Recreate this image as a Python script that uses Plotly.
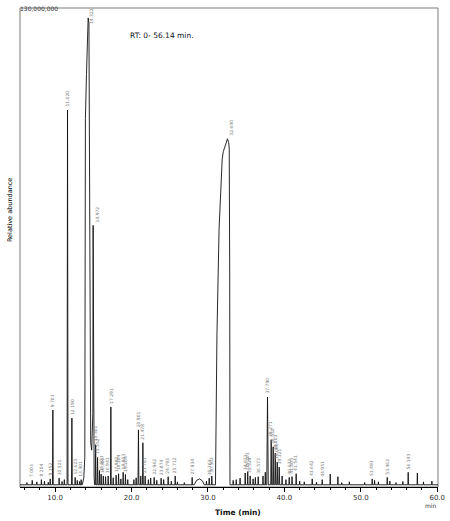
import plotly.graph_objects as go

# ---------------- data (intensities in millions of counts, RT in min) -------------
baseline = 0.6

# isolated peaks: retention time, apex height, half width, label ('' = unlabeled)
peak_rt = [6.30, 7.00, 7.60, 8.20, 8.60, 9.10, 9.35, 9.70, 10.52, 10.90, 11.20, 11.62,
           12.19, 12.62, 12.90, 13.20, 13.40,
           15.30, 15.55, 15.80, 16.02, 16.30, 16.60, 16.94, 17.29, 17.60, 17.98, 18.30,
           18.60, 18.90, 19.20, 19.50, 20.30, 20.60, 20.90, 21.20, 21.48, 21.78, 22.20,
           22.50, 22.96, 23.30, 23.87, 24.20, 24.79, 25.20, 25.71, 26.00, 26.90, 27.93,
           29.80, 30.16, 30.50, 33.30, 33.70, 34.20, 34.87, 35.20, 35.52, 35.90, 36.20,
           36.57, 37.20, 37.50, 37.79, 38.27, 38.53, 38.80, 39.06, 39.32, 39.70, 40.20,
           40.63, 41.00, 41.54, 42.00, 42.60, 43.64, 44.20, 44.95, 46.00, 47.00, 47.50,
           48.50, 50.50, 51.49, 51.80, 52.30, 53.46, 53.80, 54.60, 55.50, 56.20, 57.40,
           58.20, 59.30]
peak_height = [1.2, 1.8, 1.4, 2.0, 1.6, 1.3, 2.2, 20.9, 2.4, 1.5, 2.0, 102.3,
               18.7, 2.6, 1.8, 1.5, 2.0,
               11.5, 8.0, 4.5, 3.5, 3.0, 2.8, 3.0, 21.7, 2.5, 3.2, 3.6,
               2.2, 4.0, 3.4, 2.0, 2.0, 2.5, 15.5, 3.0, 12.0, 3.0, 2.0,
               2.4, 2.6, 1.8, 2.4, 2.0, 2.8, 1.6, 3.0, 1.4, 1.2, 2.6,
               1.6, 2.4, 3.0, 1.8, 2.0, 2.4, 3.8, 4.2, 3.0, 2.2, 2.6,
               2.8, 3.0, 4.0, 24.4, 12.8, 10.9, 9.2, 6.8, 5.4, 3.0, 2.0,
               2.6, 2.8, 3.6, 1.6, 1.4, 2.2, 1.3, 2.0, 3.5, 2.8, 1.2,
               1.4, 1.2, 2.2, 1.8, 1.4, 2.6, 1.6, 1.2, 1.5, 4.0, 3.8,
               1.4, 1.6]
peak_halfwidth = [0.04, 0.04, 0.04, 0.04, 0.04, 0.04, 0.04, 0.05, 0.04, 0.04, 0.04, 0.06,
                  0.05, 0.04, 0.04, 0.04, 0.04,
                  0.05, 0.05, 0.04, 0.04, 0.04, 0.04, 0.04, 0.05, 0.04, 0.04, 0.04,
                  0.04, 0.04, 0.04, 0.04, 0.04, 0.04, 0.06, 0.04, 0.06, 0.04, 0.04,
                  0.04, 0.04, 0.04, 0.04, 0.04, 0.04, 0.04, 0.04, 0.04, 0.04, 0.04,
                  0.04, 0.04, 0.04, 0.04, 0.04, 0.04, 0.04, 0.04, 0.04, 0.04, 0.04,
                  0.04, 0.04, 0.04, 0.10, 0.06, 0.06, 0.06, 0.06, 0.06, 0.04, 0.04,
                  0.04, 0.04, 0.04, 0.04, 0.04, 0.04, 0.04, 0.04, 0.04, 0.04, 0.04,
                  0.04, 0.04, 0.04, 0.04, 0.04, 0.04, 0.04, 0.04, 0.04, 0.04, 0.04,
                  0.04, 0.04]
peak_label = ['', '7.003', '', '8.204', '', '', '9.352', '9.701', '10.521', '', '', '11.620',
              '12.190', '12.623', '', '', '13.401',
              '15.301', '15.552', '', '16.021', '16.302', '', '16.941', '17.291', '', '17.982', '18.304',
              '', '18.903', '19.204', '', '', '', '20.901', '', '21.478', '21.781', '',
              '', '22.962', '', '23.874', '', '24.793', '', '25.712', '', '', '27.934',
              '', '30.163', '30.502', '', '', '', '34.871', '35.203', '35.524', '', '',
              '36.573', '', '', '37.790', '38.271', '38.532', '38.803', '39.060', '39.321', '', '',
              '40.632', '41.003', '41.541', '', '', '43.642', '', '44.951', '', '', '',
              '', '', '51.493', '', '', '53.462', '', '', '', '56.143', '',
              '', '']

# main (largest) peak region, explicit outline
main_rt = [13.55, 13.75, 13.88, 13.93, 13.96, 14.10, 14.25, 14.32, 14.42, 14.50, 14.55,
           14.65, 14.78, 14.88, 14.93, 14.97, 15.02, 15.10, 15.15]
main_int = [0.6, 2.5, 8.0, 60.0, 100.0, 112.0, 125.0, 127.3, 126.0, 80.0, 18.0,
            12.0, 10.0, 14.0, 20.0, 71.0, 6.0, 3.0, 0.6]

# broad flat-topped peak near 32 min
broad_rt = [30.98, 31.08, 31.17, 31.45, 31.70, 31.86, 32.00, 32.30, 32.55, 32.70, 32.78, 32.84, 32.88]
broad_int = [0.6, 20.0, 41.0, 70.0, 84.0, 89.0, 91.0, 93.0, 94.5, 93.5, 92.0, 60.0, 0.6]

# small hump near 29 min
hump_rt = [28.20, 28.50, 28.90, 29.30, 29.50]
hump_int = [0.6, 1.8, 2.2, 1.6, 0.6]

# labels of the explicit peaks
extra_label_rt = [14.32, 14.97, 32.60]
extra_label_h = [127.3, 71.0, 94.5]
extra_label_text = ['14.322', '14.972', '32.640']
extra_label_yshift = [-8, 1, 1]

x_ticks = [10, 20, 30, 40, 50, 60]
x_tick_text = ['10.0', '20.0', '30.0', '40.0', '50.0', '60.0']
x_range = [5.4, 60.1]
y_max = 130e6

# ---------------- build chromatogram polyline --------------------------------------
pts = [(x_range[0], baseline), (x_range[1], baseline)]
for rt, h, hw in zip(peak_rt, peak_height, peak_halfwidth):
    pts += [(rt - hw, baseline), (rt, h), (rt + hw, baseline)]
pts += list(zip(main_rt, main_int))
pts += list(zip(broad_rt, broad_int))
pts += list(zip(hump_rt, hump_int))
pts.sort(key=lambda p: p[0])
xs = [p[0] for p in pts]
ys = [p[1] * 1e6 for p in pts]

fig = go.Figure()
fig.add_trace(go.Scatter(x=xs, y=ys, mode='lines',
                         line=dict(color='#111111', width=0.9),
                         hoverinfo='skip', showlegend=False))

label_font = dict(family='DejaVu Sans', size=4.5, color='#808080')
annotations = []
for rt, h, lab in zip(peak_rt, peak_height, peak_label):
    if lab:
        annotations.append(dict(x=rt, y=h * 1e6, xref='x', yref='y', text=lab,
                                textangle=-90, showarrow=False, xanchor='center',
                                yanchor='bottom', yshift=1, font=label_font))
for rt, h, lab, ys_ in zip(extra_label_rt, extra_label_h, extra_label_text, extra_label_yshift):
    annotations.append(dict(x=rt, y=h * 1e6, xref='x', yref='y', text=lab,
                            textangle=-90, showarrow=False, xanchor='center',
                            yanchor='bottom', yshift=ys_, xshift=4, font=label_font))

# static texts
annotations += [
    dict(x=-0.005, y=0.999, xref='paper', yref='paper', text='130,000,000',
         showarrow=False, xanchor='left', yanchor='middle',
         font=dict(family='DejaVu Sans', size=6, color='#333333')),
    dict(x=0.258, y=0.942, xref='paper', yref='paper', text='RT: 0- 56.14 min.',
         showarrow=False, xanchor='left', yanchor='middle',
         font=dict(family='DejaVu Sans', size=7.5, color='#111122')),
    dict(x=-0.024, y=0.578, xref='paper', yref='paper', text='Relative abundance',
         showarrow=False, textangle=-90, xanchor='center', yanchor='middle',
         font=dict(family='DejaVu Sans', size=6.5, color='#000000')),
    dict(x=0.522, y=-0.054, xref='paper', yref='paper', text='<b>Time (min)</b>',
         showarrow=False, xanchor='center', yanchor='middle',
         font=dict(family='DejaVu Sans', size=7.5, color='#111111')),
    dict(x=0.983, y=-0.0386, xref='paper', yref='paper', text='min',
         showarrow=False, xanchor='center', yanchor='middle',
         font=dict(family='DejaVu Sans', size=6, color='#333333')),
]

fig.update_layout(
    width=450, height=521,
    margin=dict(l=20, r=12, t=8, b=34, autoexpand=False),
    paper_bgcolor='white', plot_bgcolor='white',
    showlegend=False,
    annotations=annotations,
    shapes=[dict(type='rect', xref='paper', yref='paper', x0=0, y0=0, x1=1, y1=1,
                 line=dict(color='#7a7a7a', width=1), layer='below')],
)
fig.update_xaxes(range=x_range, tickvals=x_ticks, ticktext=x_tick_text,
                 showgrid=False, zeroline=False, showline=True,
                 linecolor='#000000', linewidth=1, ticks='outside', ticklen=4,
                 tickcolor='#000000', tickwidth=1,
                 tickfont=dict(family='DejaVu Sans', size=7, color='#333333'),
                 minor=dict(ticks='outside', ticklen=2, dtick=2, tickcolor='#000000'))
fig.update_yaxes(range=[0, y_max], visible=False, showgrid=False, zeroline=False)

fig.write_html('out.html', config={'displayModeBar': False},
               post_script="document.body.style.margin='0px';document.body.style.overflow='hidden';")
